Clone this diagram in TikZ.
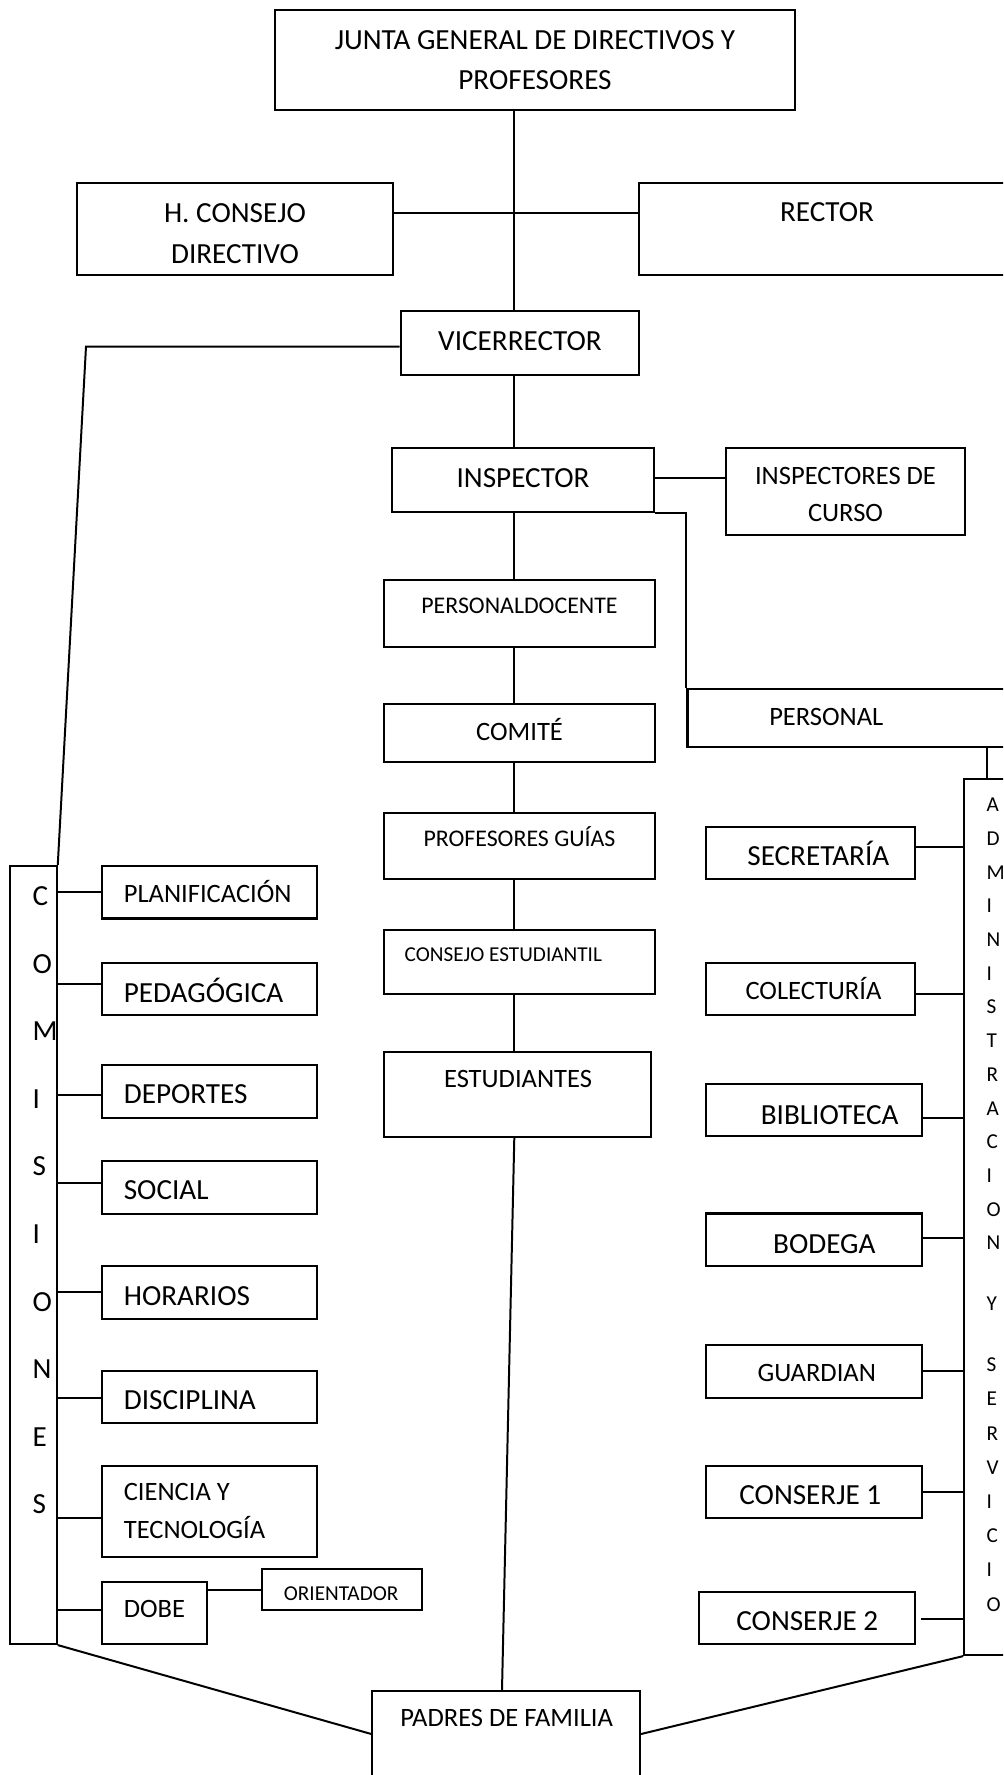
\documentclass[tikz,border=0pt]{standalone}
\usepackage{fontspec}
\setmainfont{Carlito}
\usetikzlibrary{fit}

\newcommand{\fonce}{\fontsize{11}{15.3}\selectfont}
\newcommand{\fdiez}{\fontsize{10}{14.2}\selectfont}
\newcommand{\fnueve}{\fontsize{9}{12.6}\selectfont}
\newcommand{\focho}{\fontsize{8}{11.2}\selectfont}

\tikzset{
  caja/.style={draw, line width=0.8pt, inner sep=0pt, fit={#1}},
  rotulo/.style={anchor=base, inner sep=0pt, align=center},
  rotizq/.style={anchor=base west, inner sep=0pt, align=left},
  enlace/.style={line width=0.75pt},
}

\begin{document}
\begin{tikzpicture}[x=0.377pt, y=-0.377pt]
  \clip (0,0) rectangle (1003,1775);
  \fill[white] (0,0) rectangle (1003,1775);
  \coordinate (trunk) at (514.3,0);

  % direccion
  \node[caja={(275,10) (795,110)}] (junta) {};
  \node[rotulo, font=\fonce] (junta-t) at (535,90) {JUNTA GENERAL DE DIRECTIVOS Y\\PROFESORES};
  \node[caja={(77,182.7) (392.7,275.3)}] (hcons) {};
  \node[rotulo, font=\fonce] (hcons-t) at (235,263.3) {H. CONSEJO\\DIRECTIVO};
  \node[caja={(639,183.3) (1015,275.3)}] (rector) {};
  \node[rotulo, font=\fonce] (rector-t) at (827,221.7) {RECTOR};
  \node[caja={(400.7,311) (639.3,375.3)}] (vice) {};
  \node[rotulo, font=\fonce] (vice-t) at (520,350.7) {VICERRECTOR};
  \node[caja={(392,448.3) (654.2,512)}] (insp) {};
  \node[rotulo, font=\fonce] (insp-t) at (523,487.3) {INSPECTOR};
  \node[caja={(725.7,448.3) (965,535)}] (insc) {};
  \node[rotulo, font=\fdiez] (insc-t) at (845.5,521.7) {INSPECTORES DE\\CURSO};

  % columna central
  \node[caja={(383.7,580) (655,647.3)}] (pdoc) {};
  \node[rotulo, font=\fnueve] (pdoc-t) at (519.5,613.3) {PERSONALDOCENTE};
  \node[caja={(383.7,704.3) (655,762.3)}] (comite) {};
  \node[rotulo, font=\fdiez] (comite-t) at (519.5,740) {COMITÉ};
  \node[caja={(383.7,813) (654.7,879.3)}] (pguias) {};
  \node[rotulo, font=\fnueve] (pguias-t) at (519.5,846) {PROFESORES GUÍAS};
  \node[caja={(383.7,930) (654.7,993.7)}] (cest) {};
  \node[rotulo, font=\focho] (cest-t) at (503.3,961.7) {CONSEJO ESTUDIANTIL};
  \node[caja={(383.7,1052) (651,1136.7)}] (estud) {};
  \node[rotulo, font=\fdiez] (estud-t) at (518,1087.3) {ESTUDIANTES};
  \node[caja={(372.4,1691) (640,1777)}] (padres) {};
  \node[rotulo, font=\fdiez] (padres-t) at (506.7,1726.7) {PADRES DE FAMILIA};

  % personal administrativo
  \node[caja={(687.5,689) (1015,747.3)}] (pers) {};
  \node[rotulo, font=\fdiez] (pers-t) at (826.3,725) {PERSONAL};
  \node[caja={(964.3,779.3) (1009.1,1655)}] (admin) {};
  \foreach \l [count=\i from 0] in {A,D,M,I,N,I,S,T,R,A,C,I,O,N}
    \node[rotizq, font=\focho] (adma-\i) at (986,{811.7+33.7*\i}) {\l};
  \node[rotizq, font=\focho] (admy) at (986,1310) {Y};
  \foreach \l [count=\i from 0] in {S,E,R,V,I,C,I,O}
    \node[rotizq, font=\focho] (admb-\i) at (986,{1371.7+34.2*\i}) {\l};

  \node[caja={(705.7,826.7) (915,879.3)}] (secr) {};
  \node[rotulo, font=\fonce] (secr-t) at (818.3,865.7) {SECRETARÍA};
  \node[caja={(705.7,962.6) (915,1014.8)}] (cole) {};
  \node[rotulo, font=\fdiez] (cole-t) at (813.5,999) {COLECTURÍA};
  \node[caja={(705.7,1084) (921.7,1136)}] (bibl) {};
  \node[rotulo, font=\fonce] (bibl-t) at (829.7,1124) {BIBLIOTECA};
  \node[caja={(705.7,1213.5) (921.7,1265.7)}] (bode) {};
  \node[rotulo, font=\fonce] (bode-t) at (824.3,1253.7) {BODEGA};
  \node[caja={(705.7,1345) (921.7,1397.7)}] (guar) {};
  \node[rotulo, font=\fdiez] (guar-t) at (816.7,1381.7) {GUARDIAN};
  \node[caja={(705.7,1465.7) (921.7,1518.3)}] (cons1) {};
  \node[rotulo, font=\fonce] (cons1-t) at (810.3,1504) {CONSERJE 1};
  \node[caja={(699,1591.7) (915,1644)}] (cons2) {};
  \node[rotulo, font=\fonce] (cons2-t) at (807.3,1630) {CONSERJE 2};

  % comisiones
  \node[caja={(10,866) (56.7,1644)}] (comis) {};
  \foreach \l [count=\i from 0] in {C,O,M,I,S,I,O,N,E,S}
    \node[rotizq, font=\fonce] (com-\i) at (32,{905.5+67.6*\i}) {\l};

  \node[caja={(101.7,866) (317.3,918.5)}] (planif) {};
  \node[rotizq, font=\fdiez] (planif-t) at (123.3,902.5) {PLANIFICACIÓN};
  \node[caja={(101.7,963) (317.3,1015)}] (pedag) {};
  \node[rotizq, font=\fonce] (pedag-t) at (123.3,1002) {PEDAGÓGICA};
  \node[caja={(101.7,1065) (317.3,1118)}] (depor) {};
  \node[rotizq, font=\fonce] (depor-t) at (123.3,1103.4) {DEPORTES};
  \node[caja={(101.7,1161) (317.3,1214)}] (social) {};
  \node[rotizq, font=\fonce] (social-t) at (123.3,1199.8) {SOCIAL};
  \node[caja={(101.7,1266) (317.3,1319)}] (horar) {};
  \node[rotizq, font=\fonce] (horar-t) at (123.3,1305) {HORARIOS};
  \node[caja={(101.7,1371) (317.3,1423)}] (disci) {};
  \node[rotizq, font=\fonce] (disci-t) at (123.3,1409.3) {DISCIPLINA};
  \node[caja={(101.7,1465.7) (317.3,1557.3)}] (cienc) {};
  \node[rotizq, font=\fdiez] (cienc-t) at (123.3,1538.3) {CIENCIA Y\\TECNOLOGÍA};
  \node[caja={(101.7,1582.3) (207.3,1644)}] (dobe) {};
  \node[rotizq, font=\fdiez] (dobe-t) at (123.3,1617.7) {DOBE};
  \node[caja={(262,1569) (422.3,1610)}] (orient) {};
  \node[rotizq, font=\focho] (orient-t) at (283.3,1600) {ORIENTADOR};

  % enlaces
  \coordinate (hl) at (0,212.7);
  \draw[enlace] (junta.south -| trunk) -- (vice.north -| trunk);
  \draw[enlace] (hl -| hcons.east) -- (hl -| rector.west);
  \draw[enlace] (vice.west |- 0,346.7) -- (86,346.7) -- (comis.north east);
  \draw[enlace] (vice.south -| trunk) -- (insp.north -| trunk);
  \draw[enlace] (insp.east |- 0,478.3) -- (insc.west |- 0,478.3);
  \draw[enlace] (insp.south east) -| (pers.north west);
  \foreach \a/\b in {insp/pdoc, pdoc/comite, comite/pguias, pguias/cest, cest/estud}
    \draw[enlace] (\a.south -| trunk) -- (\b.north -| trunk);
  \draw[enlace] (estud.south -| trunk) -- (padres.north -| 502,0);
  \draw[enlace] (pers.south -| admin.north) -- (admin.north);
  \foreach \n/\y in {secr/846.7, cole/993.8, bibl/1117.5, bode/1238, guar/1370.7, cons1/1492}
    \draw[enlace] (\n.east |- 0,\y) -- (admin.west |- 0,\y);
  \draw[enlace] (921,1619.3) -- (admin.west |- 0,1619.3);
  \foreach \n/\y in {planif/892, pedag/984, depor/1095, social/1183, horar/1292, disci/1398, cienc/1517.7, dobe/1610}
    \draw[enlace] (comis.east |- 0,\y) -- (\n.west |- 0,\y);
  \draw[enlace] (orient.west -| dobe.east) -- (orient.west);
  \draw[enlace] (comis.south east) -- (padres.west);
  \draw[enlace] (admin.south west) -- (padres.east);
\end{tikzpicture}
\end{document}
